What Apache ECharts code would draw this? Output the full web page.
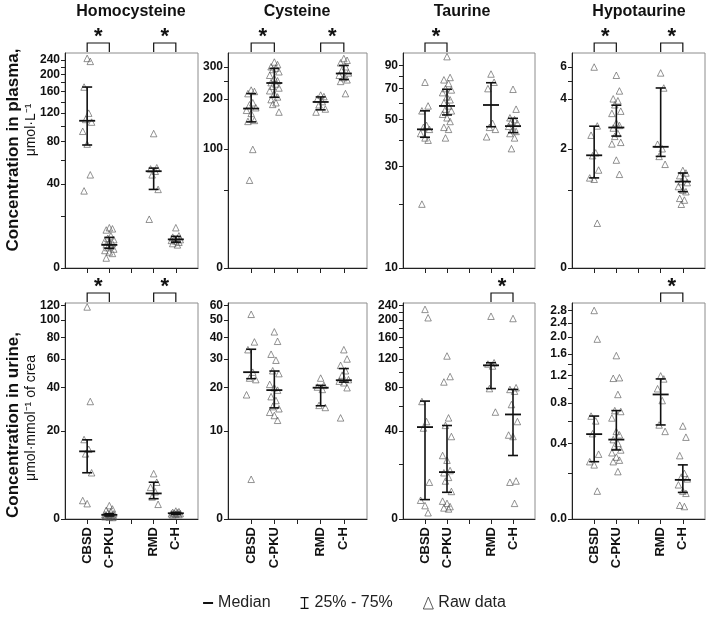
<!DOCTYPE html>
<html>
<head>
<meta charset="utf-8">
<script src="https://cdn.jsdelivr.net/npm/echarts@6/dist/echarts.min.js"></script>
<style>
  html, body { margin: 0; padding: 0; background: #fff; }
  #chart { width: 709px; height: 619px; }
</style>
</head>
<body>
<div id="chart"></div>
<script>
// categories (position 3 is the empty gap)
var groups = ['CBSD', 'C-PKU', '', 'RMD', 'C-H'];
var groupPos = [1, 2, 4, 5];
var titles = ['Homocysteine', 'Cysteine', 'Taurine', 'Hypotaurine'];

// Homocysteine, plasma
var hcyPlasmaRaw = [
  [245, 236, 170, 120, 110, 106, 93, 77, 47, 35],
  [14.5, 14, 13.5, 11, 10, 9.5, 9, 8.5, 8, 7.5, 7, 6.5, 6, 5.5, 5, 4.5, 3],
  [90, 53, 52, 50, 47, 36, 18.5],
  [14.5, 11, 10.5, 10, 9.8, 9.5, 9.2, 9, 8.5, 8, 7.5]
];
var hcyPlasmaMed = [108, 7.5, 50, 9.6];
var hcyPlasmaQ1 = [76, 6.3, 36, 8.5];
var hcyPlasmaQ3 = [170, 10.4, 52.7, 10.8];
var hcyPlasmaTicks = [0, 40, 80, 120, 160, 200, 240];
var hcyPlasmaMinor = [20, 60, 100, 140, 180, 220];

// Cysteine, plasma
var cysPlasmaRaw = [
  [224, 220, 214, 190, 185, 178, 172, 165, 150, 148, 99, 60],
  [318, 308, 300, 295, 290, 282, 270, 260, 252, 246, 242, 235, 230, 222, 214, 205, 198, 190, 186, 168],
  [210, 206, 200, 193, 185, 175, 168],
  [332, 325, 315, 300, 290, 278, 270, 262, 255, 250, 214]
];
var cysPlasmaMed = [176, 245, 192, 276];
var cysPlasmaQ1 = [147, 204, 173, 256];
var cysPlasmaQ3 = [214, 294, 205, 305];
var cysPlasmaTicks = [0, 100, 200, 300];
var cysPlasmaMinor = [50, 250];

// Taurine, plasma
var tauPlasmaRaw = [
  [75, 58, 55, 47, 46, 45, 43, 41, 40, 20],
  [99, 79, 77, 74, 70, 69, 67, 64, 62, 60, 58, 56, 55, 53, 51, 49, 46, 45, 41],
  [82, 75, 70, 48, 46, 45, 41.5],
  [69.5, 56, 51, 50, 49, 48, 46.5, 45, 44, 43, 41, 36.5]
];
var tauPlasmaMed = [45, 58, 58.6, 46.6];
var tauPlasmaQ1 = [41.3, 52.6, 46.3, 43.4];
var tauPlasmaQ3 = [55, 69.5, 74.6, 50.7];
var tauPlasmaTicks = [10, 30, 50, 70, 90];
var tauPlasmaMinor = [20, 40, 60, 80];

// Hypotaurine, plasma
var hypPlasmaRaw = [
  [5.98, 2.78, 2.44, 1.88, 1.8, 1.43, 1.25, 1.22, 0.47],
  [5.4, 4.43, 4.0, 3.9, 3.7, 3.4, 3.3, 2.9, 2.8, 2.7, 2.5, 2.4, 2.2, 2.15, 1.68, 1.33],
  [5.56, 4.6, 2.14, 2.0, 1.78, 1.57],
  [1.42, 1.36, 1.3, 1.25, 1.17, 1.15, 1.07, 1.0, 0.97, 0.85, 0.82, 0.75]
];
var hypPlasmaMed = [1.81, 2.72, 2.06, 1.17];
var hypPlasmaQ1 = [1.25, 2.41, 1.78, 0.97];
var hypPlasmaQ3 = [2.77, 3.68, 4.6, 1.36];
var hypPlasmaTicks = [0, 2, 4, 6];
var hypPlasmaMinor = [1, 5];

// Homocysteine, urine
var hcyUrineRaw = [
  [118, 32.5, 17, 14, 12.7, 8, 2.7, 2.2],
  [1.9, 1.4, 1.2, 1.0, 0.8, 0.7, 0.6, 0.55, 0.5, 0.45, 0.4, 0.35, 0.3, 0.3, 0.25, 0.2],
  [7.8, 6.0, 5.0, 4.2, 3.3, 2.1],
  [1.1, 1.0, 0.9, 0.85, 0.8, 0.75, 0.7, 0.65, 0.6, 0.55]
];
var hcyUrineMed = [13.4, 0.56, 3.9, 0.78];
var hcyUrineQ1 = [8.0, 0.4, 3.0, 0.65];
var hcyUrineQ3 = [16.9, 0.7, 6.0, 0.9];
var hcyUrineTicks = [0, 20, 40, 60, 80, 100, 120];
var hcyUrineMinor = [];

// Cysteine, urine
var cysUrineRaw = [
  [53.8, 37.7, 34, 25, 23, 22.5, 18, 3.3],
  [43, 38, 32, 29.5, 25.5, 24.5, 21, 20, 19.3, 17.5, 16.5, 15, 14.5, 13.7, 13, 12],
  [23, 20.7, 20.2, 19.5, 15.3, 14.8],
  [34, 30, 27.5, 25.5, 24, 22.5, 22, 21.5, 20, 12.5]
];
var cysUrineMed = [25, 19.3, 20, 22.3];
var cysUrineQ1 = [22.8, 14.7, 15.2, 21.7];
var cysUrineQ3 = [34.2, 25.4, 20.7, 26.3];
var cysUrineTicks = [0, 10, 20, 30, 40, 50, 60];
var cysUrineMinor = [];

// Taurine, urine
var tauUrineRaw = [
  [229, 206, 65, 47, 42, 12, 5.5, 3.8, 1.7],
  [125, 94, 87, 50, 44, 36, 24.5, 22, 17, 16, 14, 12.5, 8.5, 5.2, 4.5, 3.5, 3.1, 2.8],
  [210, 114, 112, 109, 79, 55],
  [204, 80, 78, 76, 62, 47, 37, 36, 12.5, 12, 4.5]
];
var tauUrineMed = [42.7, 16.3, 110, 52.9];
var tauUrineQ1 = [5.7, 8.2, 79, 24.5];
var tauUrineQ3 = [65.4, 43.9, 114, 78];
var tauUrineTicks = [0, 40, 80, 120, 160, 200, 240];
var tauUrineMinor = [20, 60, 100, 140, 180, 220];

// Hypotaurine, urine
var hypUrineRaw = [
  [2.8, 1.95, 0.65, 0.6, 0.48, 0.32, 0.27, 0.25, 0.11],
  [1.57, 1.16, 1.15, 0.91, 0.71, 0.70, 0.63, 0.50, 0.47, 0.43, 0.40, 0.38, 0.35, 0.33, 0.30, 0.28, 0.27, 0.21],
  [1.19, 1.14, 0.99, 0.83, 0.56, 0.50],
  [0.55, 0.45, 0.31, 0.2, 0.18, 0.17, 0.14, 0.11, 0.1, 0.05, 0.045]
];
var hypUrineMed = [0.476, 0.43, 0.91, 0.165];
var hypUrineQ1 = [0.27, 0.35, 0.56, 0.104];
var hypUrineQ3 = [0.65, 0.71, 1.14, 0.25];
var hypUrineTicks = [0, 0.4, 0.8, 1.2, 1.6, 2.0, 2.4, 2.8];
var hypUrineMinor = [0.2, 0.6, 1.0, 1.4];

// significance brackets (pairs of x positions)
var hcyPlasmaSig = [[1, 2], [4, 5]];
var cysPlasmaSig = [[1, 2], [4, 5]];
var tauPlasmaSig = [[1, 2]];
var hypPlasmaSig = [[1, 2], [4, 5]];
var hcyUrineSig = [[1, 2], [4, 5]];
var cysUrineSig = [];
var tauUrineSig = [[4, 5]];
var hypUrineSig = [[4, 5]];

// each panel: y = log(v + k) axis, range min..max
var panels = [
  { raw: hcyPlasmaRaw, med: hcyPlasmaMed, q1: hcyPlasmaQ1, q3: hcyPlasmaQ3, ticks: hcyPlasmaTicks, minor: hcyPlasmaMinor, sig: hcyPlasmaSig, k: 25, min: 0, max: 262, dec: 0 },
  { raw: cysPlasmaRaw, med: cysPlasmaMed, q1: cysPlasmaQ1, q3: cysPlasmaQ3, ticks: cysPlasmaTicks, minor: cysPlasmaMinor, sig: cysPlasmaSig, k: 37, min: 0, max: 355, dec: 0 },
  { raw: tauPlasmaRaw, med: tauPlasmaMed, q1: tauPlasmaQ1, q3: tauPlasmaQ3, ticks: tauPlasmaTicks, minor: tauPlasmaMinor, sig: tauPlasmaSig, k: 0, min: 10, max: 103, dec: 0 },
  { raw: hypPlasmaRaw, med: hypPlasmaMed, q1: hypPlasmaQ1, q3: hypPlasmaQ3, ticks: hypPlasmaTicks, minor: hypPlasmaMinor, sig: hypPlasmaSig, k: 0.74, min: 0, max: 7.1, dec: 0 },
  { raw: hcyUrineRaw, med: hcyUrineMed, q1: hcyUrineQ1, q3: hcyUrineQ3, ticks: hcyUrineTicks, minor: hcyUrineMinor, sig: hcyUrineSig, k: 11.5, min: 0, max: 124, dec: 0 },
  { raw: cysUrineRaw, med: cysUrineMed, q1: cysUrineQ1, q3: cysUrineQ3, ticks: cysUrineTicks, minor: cysUrineMinor, sig: cysUrineSig, k: 5.75, min: 0, max: 62, dec: 0 },
  { raw: tauUrineRaw, med: tauUrineMed, q1: tauUrineQ1, q3: tauUrineQ3, ticks: tauUrineTicks, minor: tauUrineMinor, sig: tauUrineSig, k: 23, min: 0, max: 248, dec: 0 },
  { raw: hypUrineRaw, med: hypUrineMed, q1: hypUrineQ1, q3: hypUrineQ3, ticks: hypUrineTicks, minor: hypUrineMinor, sig: hypUrineSig, k: 0.3, min: 0, max: 3.07, dec: 1 }
];

var FONT = '"Liberation Sans", Arial, sans-serif';
var INK = '#111';
var lefts = [65, 228, 403, 572];
var widths = [133, 139, 132, 133];
var tops = [53, 303];
var heights = [215, 216];
// horizontal spread of raw points inside a group (axis units)
var jitter = [0, 0.14, -0.14, 0.07, -0.07, 0.2, -0.2];

var grids = [], xAxes = [], yAxes = [], series = [];

panels.forEach(function (p, i) {
  var row = Math.floor(i / 4), col = i % 4;
  var f = function (v) { return Math.log(v + p.k); };

  grids.push({
    left: lefts[col], top: tops[row], width: widths[col], height: heights[row],
    show: true, borderColor: '#8c8c8c', borderWidth: 1
  });

  xAxes.push({
    gridIndex: i, type: 'value', min: 0, max: 6,
    axisLine: { onZero: false, lineStyle: { color: '#222', width: 1 } },
    axisTick: { customValues: [1, 2, 3, 4, 5], length: 5, lineStyle: { color: '#222' } },
    axisLabel: row === 1 ? {
      customValues: groupPos, rotate: 90, margin: 8,
      formatter: function (v) { return groups[Math.round(v) - 1]; },
      fontFamily: FONT, fontWeight: 'bold', fontSize: 13, color: INK
    } : { show: false },
    splitLine: { show: false }
  });

  yAxes.push({
    gridIndex: i, type: 'value', min: f(p.min), max: f(p.max),
    axisLine: { show: true, onZero: false, lineStyle: { color: '#222', width: 1 } },
    axisTick: { show: true, customValues: p.ticks.concat(p.minor).map(f), length: 4, lineStyle: { color: '#222' } },
    axisLabel: {
      customValues: p.ticks.map(f), margin: 5,
      formatter: function (v) {
        var t = p.ticks.filter(function (x) { return Math.abs(f(x) - v) < 1e-6; })[0];
        return t === undefined ? '' : t.toFixed(p.dec);
      },
      fontFamily: FONT, fontWeight: 'bold', fontSize: 12, color: INK
    },
    splitLine: { show: false }
  });

  // raw data triangles
  var pts = [];
  p.raw.forEach(function (list, g) {
    list.forEach(function (v, j) {
      pts.push([groupPos[g] + jitter[j % jitter.length], f(v)]);
    });
  });
  series.push({
    name: 'Raw data', type: 'scatter', xAxisIndex: i, yAxisIndex: i,
    symbol: 'triangle', symbolSize: 6.5,
    itemStyle: { color: 'rgba(255,255,255,0)', borderColor: '#555', borderWidth: 0.8 },
    data: pts, z: 2
  });

  // 25%-75% bars
  series.push({
    name: '25% - 75%', type: 'custom', xAxisIndex: i, yAxisIndex: i,
    itemStyle: { color: INK },
    data: p.q1.map(function (q, g) { return [groupPos[g], f(q), f(p.q3[g])]; }),
    renderItem: function (params, api) {
      var a = api.coord([api.value(0), api.value(1)]);
      var b = api.coord([api.value(0), api.value(2)]);
      var st = { stroke: INK, lineWidth: 1.6 };
      return {
        type: 'group', children: [
          { type: 'line', shape: { x1: a[0], y1: a[1], x2: b[0], y2: b[1] }, style: st },
          { type: 'line', shape: { x1: a[0] - 5, y1: a[1], x2: a[0] + 5, y2: a[1] }, style: st },
          { type: 'line', shape: { x1: b[0] - 5, y1: b[1], x2: b[0] + 5, y2: b[1] }, style: st }
        ]
      };
    },
    z: 3
  });

  // medians
  series.push({
    name: 'Median', type: 'custom', xAxisIndex: i, yAxisIndex: i,
    itemStyle: { color: INK },
    data: p.med.map(function (m, g) { return [groupPos[g], f(m)]; }),
    renderItem: function (params, api) {
      var c = api.coord([api.value(0), api.value(1)]);
      return { type: 'line', shape: { x1: c[0] - 8, y1: c[1], x2: c[0] + 8, y2: c[1] }, style: { stroke: INK, lineWidth: 1.8 } };
    },
    z: 4
  });

  // significance brackets above the panel
  if (p.sig.length) {
    series.push({
      name: 'sig', type: 'custom', xAxisIndex: i, yAxisIndex: i, clip: false, silent: true,
      data: p.sig.map(function (s) { return [s[0], s[1], f(p.max)]; }),
      encode: { x: [0, 1], y: 2 },
      renderItem: function (params, api) {
        var a = api.coord([api.value(0), api.value(2)]);
        var b = api.coord([api.value(1), api.value(2)]);
        var top = a[1] - 10;
        return {
          type: 'group', children: [
            { type: 'polyline', shape: { points: [[a[0], a[1] - 1], [a[0], top], [b[0], top], [b[0], a[1] - 1]] },
              style: { stroke: INK, lineWidth: 1.2, fill: null } },
            { type: 'text', x: (a[0] + b[0]) / 2, y: top - 6,
              style: { text: '*', textAlign: 'center', textVerticalAlign: 'middle', font: 'bold 22px ' + FONT, fill: INK } }
          ]
        };
      },
      z: 5
    });
  }
});

var titleX = [131, 297, 462, 639];
var graphics = titles.map(function (t, c) {
  return { type: 'text', x: titleX[c], y: 12,
    style: { text: t, textAlign: 'center', textVerticalAlign: 'middle', font: 'bold 16px ' + FONT, fill: INK } };
});
graphics.push(
  { type: 'text', x: 13, y: 150, rotation: Math.PI / 2,
    style: { text: 'Concentration in plasma,', textAlign: 'center', textVerticalAlign: 'middle', font: 'bold 17px ' + FONT, fill: INK } },
  { type: 'text', x: 31, y: 130, rotation: Math.PI / 2,
    style: { text: 'μmol·L⁻¹', textAlign: 'center', textVerticalAlign: 'middle', font: '14px ' + FONT, fill: INK } },
  { type: 'text', x: 13, y: 425, rotation: Math.PI / 2,
    style: { text: 'Concentration in urine,', textAlign: 'center', textVerticalAlign: 'middle', font: 'bold 17px ' + FONT, fill: INK } },
  { type: 'text', x: 31, y: 418, rotation: Math.PI / 2,
    style: { text: 'μmol·mmol⁻¹ of crea', textAlign: 'center', textVerticalAlign: 'middle', font: '14px ' + FONT, fill: INK } }
);

var chart = echarts.init(document.getElementById('chart'));
chart.setOption({
  animation: false,
  backgroundColor: '#fff',
  grid: grids,
  xAxis: xAxes,
  yAxis: yAxes,
  graphic: graphics,
  legend: {
    bottom: 3, left: 'center', selectedMode: false, itemGap: 30, itemWidth: 10, itemHeight: 12,
    textStyle: { fontFamily: FONT, fontSize: 16, color: '#222' },
    data: [
      { name: 'Median', icon: 'path://M0,0H10V2H0Z', itemStyle: { color: INK } },
      { name: '25% - 75%', icon: 'path://M0,0H8V1.2H4.6V10.8H8V12H0V10.8H3.4V1.2H0Z', itemStyle: { color: INK } },
      { name: 'Raw data', icon: 'triangle', itemWidth: 7, itemHeight: 7, itemStyle: { color: '#fff', borderColor: '#333', borderWidth: 1 } }
    ]
  },
  series: series
});
</script>
</body>
</html>
